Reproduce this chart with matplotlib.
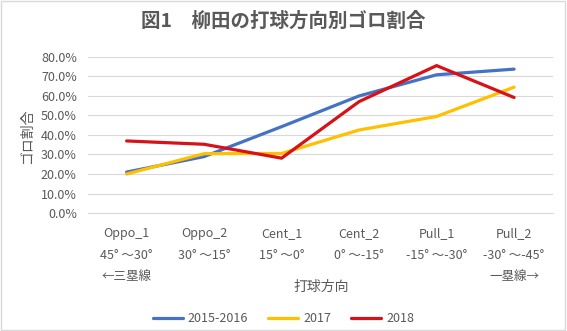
import matplotlib
matplotlib.use("Agg")
import matplotlib.pyplot as plt
from matplotlib.patches import Rectangle
from matplotlib.ticker import PercentFormatter

plt.rcParams['font.family'] = ['Noto Sans CJK JP', 'DejaVu Sans']

categories = ['Oppo_1', 'Oppo_2', 'Cent_1', 'Cent_2', 'Pull_1', 'Pull_2']
angles = ['45° ～30°', '30° ～15°', '15° ～0°', '0° ～-15°', '-15° ～-30°', '-30° ～-45°']
sides = ['←三塁線', '', '', '', '', '一塁線→']

y_1516 = [21.0, 28.9, 44.2, 59.9, 70.7, 73.6]
y_2017 = [20.0, 30.4, 30.5, 42.5, 49.4, 64.4]
y_2018 = [36.9, 35.2, 28.1, 57.0, 75.4, 59.1]

grey = '#595959'

fig = plt.figure(figsize=(5.67, 3.31), dpi=100)
ax = fig.add_axes([0.155, 0.356, 0.82, 0.473])

x = range(len(categories))
ax.plot(x, y_1516, color='#4472C4', lw=2.3, label='2015-2016', solid_capstyle='round')
ax.plot(x, y_2017, color='#FFC000', lw=2.3, label='2017', solid_capstyle='round')
ax.plot(x, y_2018, color='#D81118', lw=2.3, label='2018', solid_capstyle='round')

ax.set_xlim(-0.5, len(categories) - 0.5)
ax.set_ylim(0, 80)
ax.set_yticks(range(0, 81, 10))
ax.yaxis.set_major_formatter(PercentFormatter(decimals=1))
ax.grid(axis='y', color='#d9d9d9', lw=0.8)
ax.set_axisbelow(True)
for s in ax.spines.values():
    s.set_visible(False)
ax.spines['bottom'].set_visible(True)
ax.spines['bottom'].set_color('#d9d9d9')

labels = [c + '\n' + a + '\n' + (sd if sd else ' ') for c, a, sd in zip(categories, angles, sides)]
ax.set_xticks(list(x))
ax.set_xticklabels(labels, linespacing=1.85)
ax.tick_params(axis='both', length=0, labelsize=9, labelcolor=grey)
ax.tick_params(axis='x', pad=10)
ax.tick_params(axis='y', pad=8)

fig.text(0.5, 0.935, '図1　柳田の打球方向別ゴロ割合', ha='center', va='center',
         fontsize=14, fontweight='bold', color=grey)
fig.text(321 / 567, 1 - 287 / 331, '打球方向', ha='center', va='center', fontsize=10, color=grey)
fig.text(27 / 567, 1 - 136 / 331, 'ゴロ割合', ha='center', va='center', fontsize=10,
         color=grey, rotation=90)

fig.legend(loc='center', bbox_to_anchor=(0.5, 1 - 319 / 331), ncol=3, frameon=False,
           fontsize=9, handlelength=2.4, columnspacing=1.6, handletextpad=0.4,
           labelcolor=grey)

fig.patches.append(Rectangle((0.002, 0.003), 0.994, 0.994, transform=fig.transFigure,
                             fill=False, edgecolor='#d9d9d9', lw=1))

fig.savefig('out.png', dpi=100)
